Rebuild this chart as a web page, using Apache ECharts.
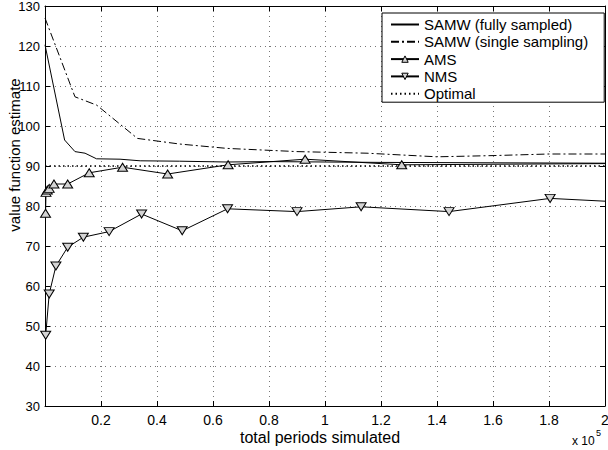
<!DOCTYPE html>
<html>
<head>
<meta charset="utf-8">
<script src="https://cdn.jsdelivr.net/npm/echarts@6/dist/echarts.min.js"></script>
<style>html,body{margin:0;padding:0;background:#fff}#c{width:608px;height:450px}</style>
</head>
<body>
<div id="c"></div>
<script>
// x in total periods simulated, y in value function estimate
const samwFullX = [0, 7000, 10700, 14300, 18400, 26800, 34000, 48000, 65000, 80000, 120000, 160000, 200000];
const samwFullY = [120.3, 96.5, 93.6, 93.2, 91.8, 91.7, 91.3, 91.2, 91.0, 91.1, 90.9, 90.8, 90.7];

const samwSingleX = [0, 10700, 18500, 33000, 48000, 65000, 90000, 115000, 140000, 160000, 180000, 200000];
const samwSingleY = [127, 107.3, 105.2, 96.9, 95.5, 94.4, 93.6, 93.2, 92.3, 92.6, 93.0, 93.0];

const amsX = [200, 360, 820, 1500, 3200, 8100, 15800, 27700, 43800, 65400, 92900, 127400, 200000];
const amsY = [78.2, 83.4, 84.0, 84.4, 85.5, 85.5, 88.3, 89.7, 88.0, 90.3, 91.7, 90.3, 90.6];

const nmsX = [250, 1500, 3900, 8100, 13700, 22900, 34500, 49000, 65200, 90000, 112900, 144300, 180400, 200000];
const nmsY = [47.7, 58.0, 65.0, 69.7, 72.2, 73.6, 78.0, 73.8, 79.3, 78.6, 79.8, 78.6, 81.9, 81.2];

const optimalX = [0, 200000];
const optimalY = [90, 90];

const seriesNames = ['SAMW (fully sampled)', 'SAMW (single sampling)', 'AMS', 'NMS', 'Optimal'];
const xTickLabels = ['', '0.2', '0.4', '0.6', '0.8', '1', '1.2', '1.4', '1.6', '1.8', '2'];

const zip = (xs, ys) => xs.map((x, i) => [x, ys[i]]);
const markerData = (xs, ys) => xs.map((x, i) => i === xs.length - 1
  ? { value: [x, ys[i]], symbol: 'none' }
  : [x, ys[i]]);

const FONT = 'Liberation Sans, Arial, Helvetica, sans-serif';
const MARKER_FILL = '#d4d4d4';
const gridLine = { show: true, lineStyle: { color: '#777', type: [1, 4], width: 1 } };
const frameLine = { show: true, onZero: false, lineStyle: { color: '#000', width: 1 } };
const tickIn = { show: true, inside: true, length: 5, lineStyle: { color: '#000' } };
const noSymbol = { opacity: 0 };
const markerStyle = { color: MARKER_FILL, borderColor: '#000', borderWidth: 1 };

const chart = echarts.init(document.getElementById('c'), null, { renderer: 'svg' });
chart.setOption({
  animation: false,
  backgroundColor: '#fff',
  textStyle: { fontFamily: FONT },
  grid: { left: 45, right: 3, top: 6, bottom: 44, containLabel: false, outerBoundsMode: 'none' },
  legend: {
    data: [
      { name: seriesNames[0], itemStyle: noSymbol },
      { name: seriesNames[1], itemStyle: noSymbol },
      { name: seriesNames[2], itemStyle: markerStyle },
      { name: seriesNames[3], itemStyle: markerStyle },
      { name: seriesNames[4], itemStyle: noSymbol }
    ],
    orient: 'vertical',
    left: 382, top: 13,
    padding: [4, 16, 1, 8],
    itemGap: 2.3,
    itemWidth: 28, itemHeight: 8,
    backgroundColor: '#fff',
    borderColor: '#000', borderWidth: 1, borderRadius: 0,
    textStyle: { fontFamily: FONT, fontSize: 15, color: '#000' }
  },
  xAxis: [{
    type: 'value', min: 0, max: 200000, interval: 20000, position: 'bottom',
    name: 'total periods simulated', nameLocation: 'middle', nameGap: 23, nameMoveOverlap: false,
    nameTextStyle: { fontSize: 16, color: '#000', fontFamily: FONT, padding: [0, 10, 0, 0] },
    axisLine: frameLine, axisTick: tickIn, splitLine: gridLine,
    axisLabel: { fontSize: 14, color: '#000', margin: 7, fontFamily: FONT,
      formatter: (v) => xTickLabels[Math.round(v / 20000)] }
  }, {
    type: 'value', min: 0, max: 200000, interval: 20000, position: 'top',
    axisLine: frameLine, axisTick: tickIn, splitLine: { show: false }, axisLabel: { show: false }
  }],
  yAxis: [{
    type: 'value', min: 30, max: 130, interval: 10, position: 'left',
    name: 'value function estimate', nameLocation: 'middle', nameGap: 23, nameMoveOverlap: false,
    nameTextStyle: { fontSize: 15, color: '#000', fontFamily: FONT, padding: [0, 0, 0, 102] },
    axisLine: frameLine, axisTick: tickIn, splitLine: gridLine,
    axisLabel: { fontSize: 13, color: '#000', margin: 5, fontFamily: FONT }
  }, {
    type: 'value', min: 30, max: 130, interval: 10, position: 'right',
    axisLine: frameLine, axisTick: tickIn, splitLine: { show: false }, axisLabel: { show: false }
  }],
  graphic: [
    { type: 'text', left: 572, top: 435, style: { text: 'x 10', fontSize: 12, fill: '#000', fontFamily: FONT } },
    { type: 'text', left: 596, top: 428, style: { text: '5', fontSize: 9, fill: '#000', fontFamily: FONT } }
  ],
  series: [
    { name: seriesNames[0], type: 'line', data: zip(samwFullX, samwFullY), showSymbol: false, symbol: 'none',
      lineStyle: { color: '#000', width: 1 }, itemStyle: { color: '#000' }, z: 3 },
    { name: seriesNames[1], type: 'line', data: zip(samwSingleX, samwSingleY), showSymbol: false, symbol: 'none',
      lineStyle: { color: '#000', width: 1, type: [8, 3, 2, 3] }, itemStyle: { color: '#000' }, z: 3 },
    { name: seriesNames[2], type: 'line', data: markerData(amsX, amsY),
      symbol: 'path://M1,0 L2,1.6 L0,1.6 Z', symbolSize: [10, 8], showAllSymbol: true,
      lineStyle: { color: '#000', width: 1 }, itemStyle: markerStyle, z: 4 },
    { name: seriesNames[3], type: 'line', data: markerData(nmsX, nmsY),
      symbol: 'path://M0,0 L2,0 L1,1.6 Z', symbolSize: [10, 8], showAllSymbol: true,
      lineStyle: { color: '#000', width: 1 }, itemStyle: markerStyle, z: 4 },
    { name: seriesNames[4], type: 'line', data: zip(optimalX, optimalY), showSymbol: false, symbol: 'none',
      lineStyle: { color: '#000', width: 1.3, type: [1.5, 3] }, itemStyle: { color: '#000' }, z: 2 }
  ]
});
</script>
</body>
</html>
